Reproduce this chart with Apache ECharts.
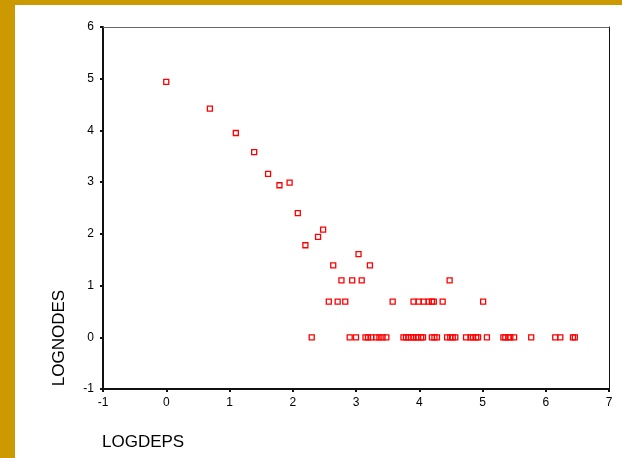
<!DOCTYPE html>
<html>
<head>
<meta charset="utf-8">
<script src="https://cdn.jsdelivr.net/npm/echarts@6/dist/echarts.min.js"></script>
<style>
html,body{margin:0;padding:0;background:#fff;}
#chart{width:622px;height:458px;}
</style>
</head>
<body>
<div id="chart"></div>
<script>
// LOGDEPS (x) and LOGNODES (y) values
const logdeps = [
  0, 0.69, 1.10, 1.39, 1.61, 1.79, 1.95, 2.08, 2.48, 2.40, 2.20,
  3.04, 2.64, 3.22, 2.77, 2.94, 3.09, 4.48,
  2.57, 2.71, 2.83, 3.58, 3.91, 3.99, 4.07, 4.15, 4.20, 4.23, 4.37, 5.01,
  2.30, 2.90, 3.00, 3.15, 3.19, 3.24, 3.32, 3.37, 3.42, 3.48,
  3.75, 3.79, 3.83, 3.87, 3.91, 3.95, 3.98, 4.03, 4.06,
  4.20, 4.24, 4.28, 4.44, 4.49, 4.53, 4.57,
  4.74, 4.81, 4.85, 4.90, 4.93, 5.07,
  5.33, 5.36, 5.41, 5.44, 5.50, 5.77, 6.15, 6.23, 6.43, 6.46
];
const lognodes = [
  4.94, 4.42, 3.95, 3.58, 3.16, 2.94, 2.99, 2.40, 2.08, 1.94, 1.78,
  1.61, 1.39, 1.39, 1.10, 1.10, 1.10, 1.10,
  0.69, 0.69, 0.69, 0.69, 0.69, 0.69, 0.69, 0.69, 0.69, 0.69, 0.69, 0.69,
  0, 0, 0, 0, 0, 0, 0, 0, 0, 0,
  0, 0, 0, 0, 0, 0, 0, 0, 0,
  0, 0, 0, 0, 0, 0, 0,
  0, 0, 0, 0, 0, 0,
  0, 0, 0, 0, 0, 0, 0, 0, 0, 0
];
const xTicks = {min: -1, max: 7, interval: 1};
const yTicks = {min: -1, max: 6, interval: 1};
const xName = 'LOGDEPS';
const yName = 'LOGNODES';

const points = logdeps.map((x, i) => [x, lognodes[i]]);
const font = 'Arial, "Liberation Sans", sans-serif';

const chart = echarts.init(document.getElementById('chart'), null, {renderer: 'canvas'});
chart.setOption({
  backgroundColor: '#ffffff',
  animation: false,
  grid: {left: 103, right: 13, top: 27, bottom: 69, containLabel: false},
  xAxis: [{
    type: 'value', min: xTicks.min, max: xTicks.max, interval: xTicks.interval,
    position: 'bottom',
    axisLine: {show: true, onZero: false, lineStyle: {color: '#111', width: 2}},
    axisTick: {show: true, length: 3, inside: false, lineStyle: {color: '#111', width: 2}},
    axisLabel: {color: '#000', fontSize: 12, fontFamily: font, margin: 8},
    splitLine: {show: false}
  }, {
    type: 'value', min: xTicks.min, max: xTicks.max, interval: xTicks.interval,
    position: 'top',
    axisLine: {show: true, onZero: false, lineStyle: {color: '#666', width: 1}},
    axisTick: {show: false}, axisLabel: {show: false}, splitLine: {show: false}
  }],
  yAxis: [{
    type: 'value', min: yTicks.min, max: yTicks.max, interval: yTicks.interval,
    position: 'left',
    axisLine: {show: true, onZero: false, lineStyle: {color: '#111', width: 2}},
    axisTick: {show: true, length: 3, inside: false, lineStyle: {color: '#111', width: 2}},
    axisLabel: {color: '#000', fontSize: 12, fontFamily: font, margin: 9},
    splitLine: {show: false}
  }, {
    type: 'value', min: yTicks.min, max: yTicks.max, interval: yTicks.interval,
    position: 'right',
    axisLine: {show: true, onZero: false, lineStyle: {color: '#111', width: 1}},
    axisTick: {show: false}, axisLabel: {show: false}, splitLine: {show: false}
  }],
  graphic: [
    {type: 'rect', left: 0, top: 0, shape: {width: 622, height: 5}, style: {fill: '#cc9a00'}, z: 100},
    {type: 'rect', left: 0, top: 0, shape: {width: 15, height: 458}, style: {fill: '#cc9a00'}, z: 100},
    {type: 'text', x: 102, y: 442, style: {text: xName, font: '17px ' + font, fill: '#000', textAlign: 'left', textVerticalAlign: 'middle'}},
    {type: 'text', x: 59, y: 338, rotation: Math.PI / 2, style: {text: yName, font: '17px ' + font, fill: '#000', textAlign: 'center', textVerticalAlign: 'middle'}}
  ],
  series: [{
    type: 'scatter',
    xAxisIndex: 0, yAxisIndex: 0,
    data: points,
    symbol: 'rect',
    symbolSize: 5,
    itemStyle: {color: 'rgba(0,0,0,0)', borderColor: '#ff0000', borderWidth: 1.3, opacity: 1},
    emphasis: {disabled: true}
  }]
});
</script>
</body>
</html>
